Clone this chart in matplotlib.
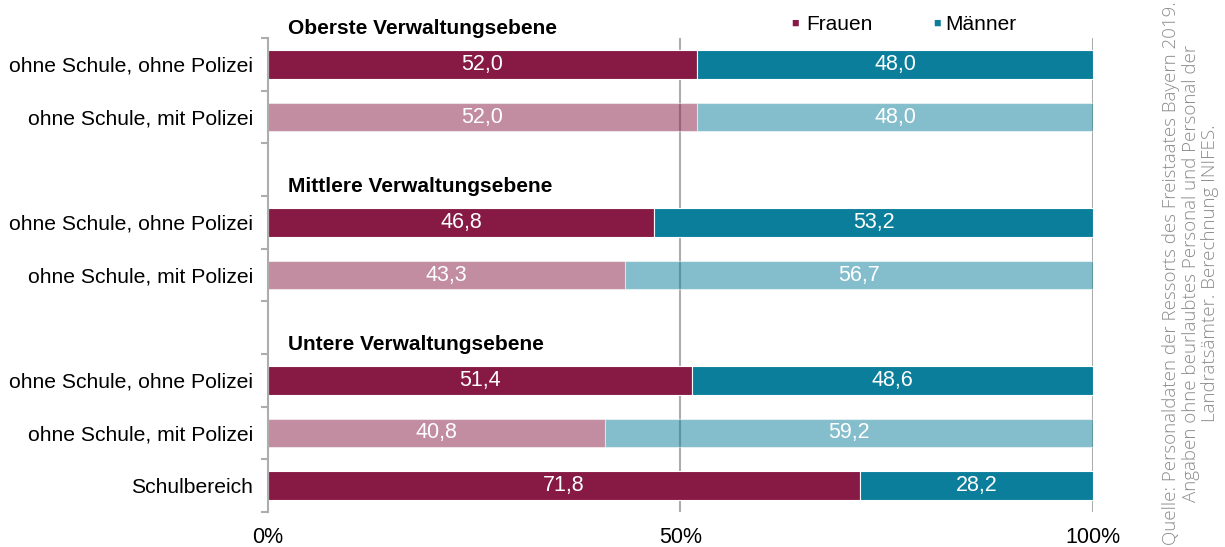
import numpy as np
import matplotlib.pyplot as plt

# data
rows = ["ohne Schule, ohne Polizei", "ohne Schule, mit Polizei",
        "ohne Schule, ohne Polizei", "ohne Schule, mit Polizei",
        "ohne Schule, ohne Polizei", "ohne Schule, mit Polizei",
        "Schulbereich"]
slots = [0, 1, 3, 4, 6, 7, 8]
frauen = [52.0, 52.0, 46.8, 43.3, 51.4, 40.8, 71.8]
maenner = [48.0, 48.0, 53.2, 56.7, 48.6, 59.2, 28.2]
light = [False, True, False, True, False, True, False]
headers = ["Oberste Verwaltungsebene", "Mittlere Verwaltungsebene", "Untere Verwaltungsebene"]
header_slots = [0, 3, 6]
quelle = ("Quelle: Personaldaten der Ressorts des Freistaates Bayern 2019.\n"
          "Angaben ohne beurlaubtes Personal und Personal der\n"
          "Landratsämter. Berechnung INIFES.")

c_f = '#861A45'
c_m = '#0A7E9B'

plt.rcParams['font.family'] = ['Liberation Sans', 'DejaVu Sans']

fig = plt.figure(figsize=(12.25, 5.47), dpi=100)
ax = fig.add_axes([0.2188, 0.064, 0.8922 - 0.2188, 0.9305 - 0.064])

for i, s in enumerate(slots):
    a = 0.5 if light[i] else 1.0
    ax.barh(s, frauen[i], height=0.54, color=c_f, alpha=a, edgecolor='white', lw=0.8, zorder=2)
    ax.barh(s, maenner[i], left=frauen[i], height=0.54, color=c_m, alpha=a, edgecolor='white', lw=0.8, zorder=2)
    ax.text(frauen[i] / 2, s, f"{frauen[i]:.1f}".replace('.', ','), ha='center', va='center',
            color='white', fontsize=15.5, zorder=3)
    ax.text(frauen[i] + maenner[i] / 2, s, f"{maenner[i]:.1f}".replace('.', ','), ha='center', va='center',
            color='white', fontsize=15.5, zorder=3)

for h, s in zip(headers, header_slots):
    ax.text(2.4, s - 0.68, h, ha='left', va='center', fontsize=15, fontweight='bold', clip_on=False)

ax.set_xlim(0, 100)
ax.set_ylim(8.5, -0.5)
for xv in [50, 100]:
    ax.axvline(xv, color='#ADADAD', lw=1.5, zorder=1)

ax.set_yticks(slots)
ax.set_yticklabels(rows, fontsize=15.2)
ax.set_yticks(np.arange(-0.5, 9, 1), minor=True)
ax.tick_params(axis='y', which='major', length=0, pad=11)
ax.tick_params(axis='y', which='minor', length=5, width=1.5, color='#ADADAD', direction='out')
ax.set_xticks([0, 50, 100])
ax.set_xticklabels(['0%', '50%', '100%'], fontsize=15.5)
ax.tick_params(axis='x', length=0, pad=11)

for sp in ['top', 'right', 'bottom']:
    ax.spines[sp].set_visible(False)
ax.spines['left'].set_color('#ADADAD')
ax.spines['left'].set_linewidth(1.5)

# legend
fig.text(0.646, 0.956, '\u25a0', color=c_f, fontsize=9, va='center', ha='left')
fig.text(0.658, 0.956, 'Frauen', fontsize=15, va='center', ha='left')
fig.text(0.762, 0.956, '\u25a0', color=c_m, fontsize=9, va='center', ha='left')
fig.text(0.7715, 0.956, 'Männer', fontsize=15, va='center', ha='left')

fig.text(0.972, 0.5, quelle, rotation=90, ha='center', va='center', multialignment='center',
         color='#8C8C8C', fontsize=13.5, family=['Open Sans', 'DejaVu Sans'], fontweight='light',
         linespacing=1.1)

fig.savefig('out.png', dpi=100)
